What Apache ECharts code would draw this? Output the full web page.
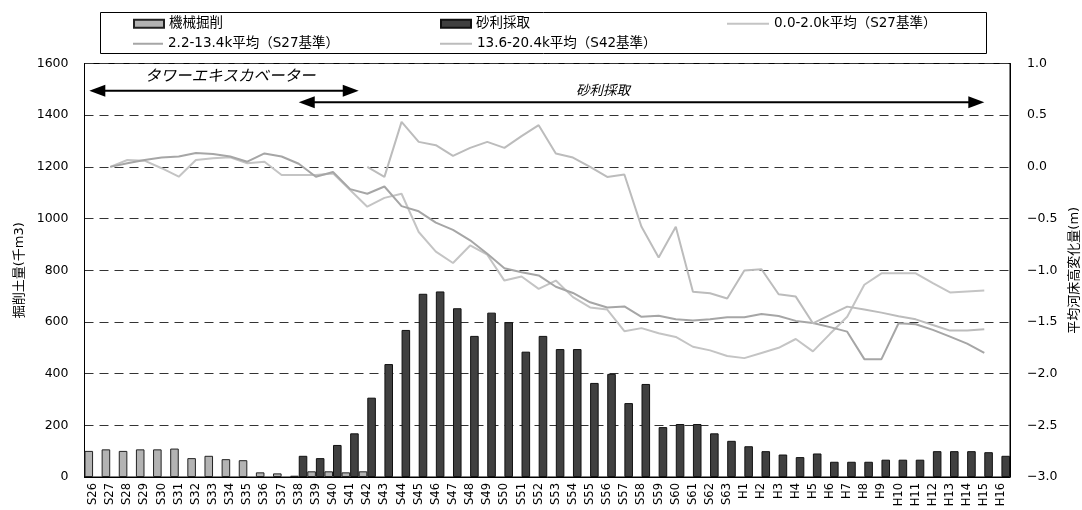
<!DOCTYPE html>
<html>
<head>
<meta charset="utf-8">
<script src="https://cdn.jsdelivr.net/npm/echarts@6/dist/echarts.min.js"></script>
<style>
  html, body { margin: 0; padding: 0; background: #fff; }
  #chart { width: 1082px; height: 510px; }
</style>
</head>
<body>
<div id="chart"></div>
<script>
// Survey years (Showa S26–S63, Heisei H1–H16)
const categories = ['S26','S27','S28','S29','S30','S31','S32','S33','S34','S35','S36','S37','S38','S39','S40','S41','S42','S43','S44','S45','S46','S47','S48','S49','S50','S51','S52','S53','S54','S55','S56','S57','S58','S59','S60','S61','S62','S63','H1','H2','H3','H4','H5','H6','H7','H8','H9','H10','H11','H12','H13','H14','H15','H16'];

// Excavated volume (thousand m3)
const machineExcavation = [101,107,101,107,107,110,73,82,69,65,18,14,5,22,22,18,22,
  null,null,null,null,null,null,null,null,null,null,null,null,null,null,null,null,null,null,null,null,null,
  null,null,null,null,null,null,null,null,null,null,null,null,null,null,null,null];
const gravelMining = [null,null,null,null,null,null,null,null,null,null,null,null,
  82,73,124,169,307,437,569,709,718,653,546,636,599,485,546,495,495,364,399,286,360,193,205,205,169,140,
  119,100,87,77,91,59,59,59,67,67,67,100,100,100,96,82];

// Mean riverbed elevation change (m)
const avg0to2k = [null,0,0.067,0.06,-0.013,-0.095,0.067,0.083,0.093,0.035,0.05,-0.078,-0.078,-0.078,-0.063,-0.223,-0.385,-0.30,-0.26,-0.63,-0.82,-0.93,-0.76,-0.85,-1.10,-1.06,-1.18,-1.10,-1.26,-1.36,-1.38,-1.59,-1.56,-1.61,-1.645,-1.74,-1.775,-1.83,
  -1.85,-1.80,-1.75,-1.665,-1.785,-1.615,-1.45,-1.14,-1.03,-1.03,-1.03,-1.125,-1.215,-1.205,-1.195,null];
const avg2to13k = [null,0,0.035,0.067,0.09,0.10,0.135,0.125,0.10,0.05,0.13,0.10,0.03,-0.095,-0.05,-0.215,-0.26,-0.19,-0.38,-0.43,-0.54,-0.61,-0.71,-0.84,-0.98,-1.02,-1.05,-1.16,-1.22,-1.31,-1.36,-1.35,-1.45,-1.44,-1.475,-1.487,-1.474,-1.455,
  -1.455,-1.423,-1.442,-1.49,-1.51,-1.55,-1.594,-1.86,-1.86,-1.513,-1.523,-1.577,-1.642,-1.71,-1.80,null];
const avg13to20k = [null,null,null,null,null,null,null,null,null,null,null,null,null,null,null,null,
  0,-0.097,0.435,0.242,0.21,0.106,0.184,0.242,0.184,0.297,0.403,0.129,0.09,0.0,-0.097,-0.074,-0.58,-0.877,-0.58,-1.207,-1.223,-1.274,
  -1.003,-0.99,-1.232,-1.255,-1.513,-1.432,-1.352,-1.38,-1.41,-1.445,-1.475,-1.53,-1.584,-1.584,-1.571,null];

const seriesNames = ['機械掘削', '砂利採取', '0.0-2.0k平均（S27基準）', '2.2-13.4k平均（S27基準）', '13.6-20.4k平均（S42基準）'];

const FONT = "'DejaVu Sans', 'Noto Sans CJK JP', sans-serif";
const CJK = "'Noto Sans CJK JP', sans-serif";
const chart = echarts.init(document.getElementById('chart'), null, { renderer: 'canvas' });

function legendAt(name, left, top, w, h, icon) {
  return {
    data: [name], left: left, top: top, padding: 0,
    itemWidth: w, itemHeight: h, icon: icon, selectedMode: false,
    textStyle: { fontFamily: FONT, fontSize: 13.5, color: '#000' }
  };
}

const option = {
  animation: false,
  backgroundColor: '#fff',
  grid: {
    left: 84.5, right: 72, top: 63.5, bottom: 33,
    outerBoundsMode: 'none', containLabel: false,
    show: true, borderColor: '#000', borderWidth: 1, backgroundColor: 'transparent'
  },
  legend: [
    legendAt(seriesNames[0], 133, 17, 30, 8, 'rect'),
    legendAt(seriesNames[1], 440, 17, 30, 8, 'rect'),
    legendAt(seriesNames[2], 727, 17, 42, 2, 'rect'),
    legendAt(seriesNames[3], 133, 37, 30, 2, 'rect'),
    legendAt(seriesNames[4], 440, 37, 32, 2, 'rect')
  ],
  xAxis: {
    type: 'category', data: categories,
    axisLine: { lineStyle: { color: '#000', width: 1 } },
    axisTick: { show: false },
    axisLabel: { rotate: 90, interval: 0, fontSize: 11.5, margin: 6, color: '#000', fontFamily: FONT }
  },
  yAxis: [
    {
      type: 'value', min: 0, max: 1600, interval: 200,
      name: '掘削土量(千m3)', nameLocation: 'middle', nameRotate: 90, nameGap: 58,
      nameTextStyle: { fontFamily: FONT, fontSize: 13, color: '#000' },
      axisLine: { show: true, lineStyle: { color: '#000' } },
      axisTick: { show: false },
      axisLabel: { fontSize: 12.5, margin: 16, color: '#000', fontFamily: FONT, formatter: v => String(v) },
      splitLine: { show: true, lineStyle: { color: '#333', type: [9, 6], width: 1 } }
    },
    {
      type: 'value', min: -3, max: 1, interval: 0.5,
      name: '平均河床高変化量(m)', nameLocation: 'middle', nameRotate: 90, nameGap: 52,
      nameTextStyle: { fontFamily: FONT, fontSize: 13, color: '#000' },
      axisLine: { show: true, lineStyle: { color: '#000' } },
      axisTick: { show: false },
      axisLabel: {
        fontSize: 12.5, margin: 17, color: '#000', fontFamily: FONT,
        formatter: v => (v < 0 ? '−' : '') + Math.abs(v).toFixed(1)
      },
      splitLine: { show: false }
    }
  ],
  series: [
    {
      name: seriesNames[0], type: 'bar', data: machineExcavation,
      barGap: '0%', barCategoryGap: '0%',
      itemStyle: { color: '#b3b3b3', borderColor: '#222', borderWidth: 1 }
    },
    {
      name: seriesNames[1], type: 'bar', data: gravelMining,
      barGap: '0%', barCategoryGap: '0%',
      itemStyle: { color: '#404040', borderColor: '#111', borderWidth: 1 }
    },
    {
      name: seriesNames[2], type: 'line', yAxisIndex: 1, data: avg0to2k,
      symbol: 'none', z: 5, lineStyle: { color: '#c4c4c4', width: 2 }, itemStyle: { color: '#c4c4c4' }
    },
    {
      name: seriesNames[3], type: 'line', yAxisIndex: 1, data: avg2to13k,
      symbol: 'none', z: 5, lineStyle: { color: '#a6a6a6', width: 2 }, itemStyle: { color: '#a6a6a6' }
    },
    {
      name: seriesNames[4], type: 'line', yAxisIndex: 1, data: avg13to20k,
      symbol: 'none', z: 5, lineStyle: { color: '#bcbcbc', width: 2 }, itemStyle: { color: '#bcbcbc' }
    }
  ]
};
chart.setOption(option);

// Period annotations, placed through the axis scales
const at = (cat, v) => chart.convertToPixel({ xAxisIndex: 0, yAxisIndex: 0 }, [cat, v]);
const band = at('S27', 0)[0] - at('S26', 0)[0];

function doubleArrow(x1, x2, y) {
  const len = 16, half = 6;
  return [
    { type: 'line', shape: { x1: x1 + 8, y1: y, x2: x2 - 8, y2: y }, style: { stroke: '#000', lineWidth: 2 }, z: 20 },
    { type: 'polygon', shape: { points: [[x1, y], [x1 + len, y - half], [x1 + len, y + half]] }, style: { fill: '#000' }, z: 20 },
    { type: 'polygon', shape: { points: [[x2, y], [x2 - len, y - half], [x2 - len, y + half]] }, style: { fill: '#000' }, z: 20 }
  ];
}

const towerY = at('S26', 1495)[1];
const gravelY = at('S26', 1450)[1];
const graphics = [
  { type: 'rect', shape: { x: 100.5, y: 12.5, width: 886, height: 41 }, style: { fill: 'none', stroke: '#000', lineWidth: 1 }, z: 0 },
  ...doubleArrow(at('S26', 0)[0] - 0.22 * band, at('S41', 0)[0] + 0.5 * band, towerY),
  ...doubleArrow(at('S38', 0)[0], at('H15', 0)[0], gravelY),
  { type: 'text', x: at('S34', 0)[0], y: at('S34', 1555)[1], z: 20,
    style: { text: 'タワーエキスカベーター', fontFamily: CJK, fontSize: 15.5, fontStyle: 'italic', fill: '#000', align: 'center', verticalAlign: 'middle' } },
  { type: 'text', x: at('S56', 0)[0] - 0.25 * band, y: at('S56', 1497)[1], z: 20,
    style: { text: '砂利採取', fontFamily: CJK, fontSize: 13.5, fontStyle: 'italic', fill: '#000', align: 'center', verticalAlign: 'middle' } }
];
chart.setOption({ graphic: graphics });
</script>
</body>
</html>
